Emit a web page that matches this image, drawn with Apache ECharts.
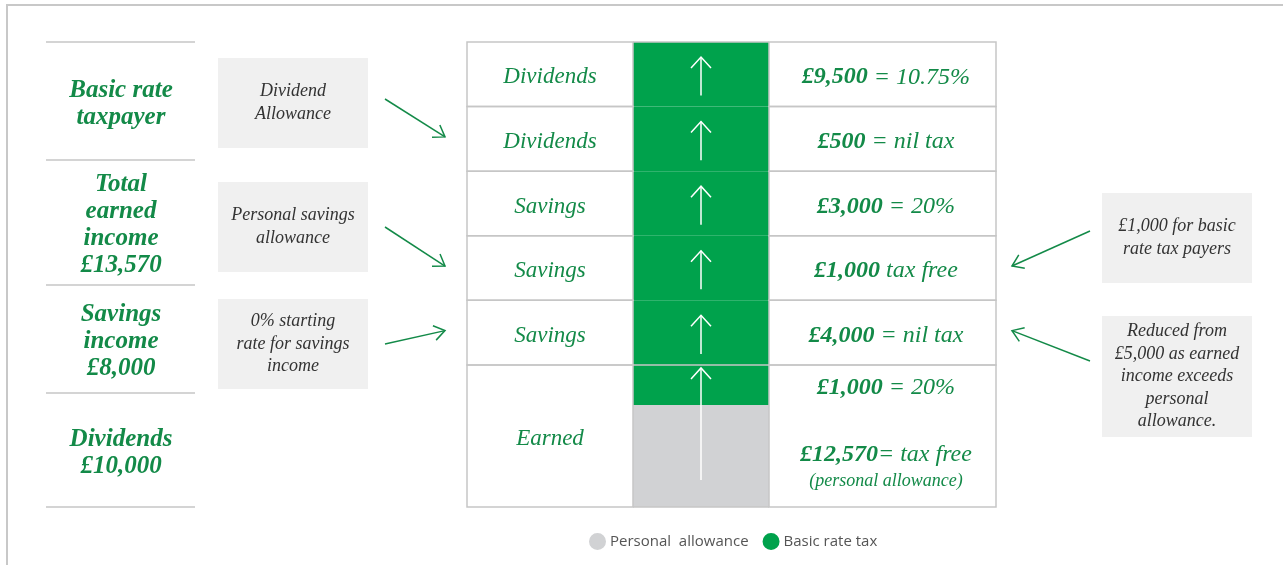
<!DOCTYPE html>
<html>
<head>
<meta charset="utf-8">
<script src="https://cdn.jsdelivr.net/npm/echarts@6/dist/echarts.min.js"></script>
<style>
  html, body { margin: 0; padding: 0; background: #fff; }
  #chart { width: 1283px; height: 565px; }
</style>
</head>
<body>
<div id="chart"></div>
<script>
// income stack, bottom to top
const segmentRows = ['Earned', 'Earned', 'Savings', 'Savings', 'Savings', 'Dividends', 'Dividends'];
const segmentBands = ['Personal  allowance', 'Basic rate tax', 'Basic rate tax', 'Basic rate tax', 'Basic rate tax', 'Basic rate tax', 'Basic rate tax'];
const segmentAmounts = ['£12,570', '£1,000', '£4,000', '£1,000', '£3,000', '£500', '£9,500'];
const segmentRates = ['= tax free', '= 20%', '= nil tax', 'tax free', '= 20%', '= nil tax', '= 10.75%'];
const segmentNotes = ['(personal allowance)', '', '', '', '', '', ''];
// drawn heights are schematic (one band per row), not to scale
const segmentHeights = [1.58, 0.62, 1, 1, 1, 1, 1];

const rowLabels = ['Earned', 'Savings', 'Savings', 'Savings', 'Dividends', 'Dividends'];
const rowSegmentCounts = [2, 1, 1, 1, 1, 1];

const summaryLabels = ['Basic rate\ntaxpayer', 'Total\nearned\nincome\n£13,570', 'Savings\nincome\n£8,000', 'Dividends\n£10,000'];

const noteTexts = [
  'Dividend\nAllowance',
  'Personal savings\nallowance',
  '0% starting\nrate for savings\nincome',
  '£1,000 for basic\nrate tax payers',
  'Reduced from\n£5,000 as earned\nincome exceeds\npersonal\nallowance.'
];
const noteTargets = [5, 3, 2, 3, 2];

const GREEN = '#00a24c';
const TEXT_GREEN = '#138a48';
const GREY = '#d1d2d4';
const LINE = '#c6c6c6';
const SERIF = '"Liberation Serif", "DejaVu Serif", serif';

const bandColors = { 'Personal  allowance': GREY, 'Basic rate tax': GREEN };

const chart = echarts.init(document.getElementById('chart'));

const barSeries = segmentHeights.map((h, i) => ({
  name: segmentBands[i],
  type: 'bar',
  stack: 'income',
  barWidth: '100%',
  silent: true,
  data: [h],
  itemStyle: {
    color: bandColors[segmentBands[i]],
    borderColor: bandColors[segmentBands[i]],
    borderWidth: 1.5
  },
  label: {
    show: true,
    position: ['186%', '50%'],
    align: 'center',
    verticalAlign: 'middle',
    offset: [0, segmentNotes[i] ? 11 : 3],
    formatter: '{b|' + segmentAmounts[i] + '}{r|' + (segmentNotes[i] ? '' : ' ') + segmentRates[i] + '}' +
      (segmentNotes[i] ? '\n{s|' + segmentNotes[i] + '}' : ''),
    rich: {
      b: { fontFamily: SERIF, fontStyle: 'italic', fontWeight: 'bold', fontSize: 24, color: TEXT_GREEN, lineHeight: 28 },
      r: { fontFamily: SERIF, fontStyle: 'italic', fontSize: 24, color: TEXT_GREEN, lineHeight: 28 },
      s: { fontFamily: SERIF, fontStyle: 'italic', fontSize: 18, color: TEXT_GREEN, lineHeight: 24 }
    }
  }
}));

// table rows built from the segment stack
let acc = 0, seg = 0;
const rowData = rowLabels.map((label, r) => {
  const bottom = acc;
  for (let k = 0; k < rowSegmentCounts[r]; k++) acc += segmentHeights[seg++];
  return [0, bottom, acc, r];
});

function renderRow(params, api) {
  const cs = params.coordSys;
  const yb = api.coord([0, api.value(1)])[1];
  const yt = api.coord([0, api.value(2)])[1];
  const r = api.value(3);
  const colL = cs.x - 166;
  const colR = cs.x + cs.width + 227;
  const cx = cs.x + cs.width / 2;
  const tall = yb - yt > 100;
  const headY = yt + (tall ? 3 : 15);
  const tailY = yb - (tall ? 27 : 11);
  const lineStyle = { stroke: LINE, lineWidth: 1.5, fill: null };
  const children = [
    { type: 'rect', shape: { x: colL, y: yt, width: cs.x - colL, height: yb - yt }, style: lineStyle },
    { type: 'rect', shape: { x: cs.x + cs.width, y: yt, width: colR - cs.x - cs.width, height: yb - yt }, style: lineStyle },
    {
      type: 'text',
      style: {
        text: rowLabels[r], x: (colL + cs.x) / 2, y: (yt + yb) / 2 + 3,
        textAlign: 'center', textVerticalAlign: 'middle',
        font: 'italic 23px ' + SERIF, fill: TEXT_GREEN
      }
    },
    { type: 'line', shape: { x1: cx, y1: tailY, x2: cx, y2: headY }, style: { stroke: '#fff', lineWidth: 1.5 } },
    { type: 'polyline', shape: { points: [[cx - 10, headY + 11], [cx, headY], [cx + 10, headY + 11]] }, style: { stroke: '#fff', lineWidth: 1.5, fill: null } }
  ];
  if (tall || r === rowLabels.length - 1) {
    children.push({ type: 'line', shape: { x1: cs.x, y1: yt, x2: cs.x + cs.width, y2: yt }, style: lineStyle });
  }
  if (r === 0) {
    children.push({ type: 'line', shape: { x1: cs.x, y1: yb, x2: cs.x + cs.width, y2: yb }, style: lineStyle });
  }
  return { type: 'group', children };
}

const option = {
  animation: false,
  backgroundColor: '#fff',
  grid: { left: 633, width: 136, top: 42, height: 465 },
  xAxis: { type: 'category', data: ['Income'], show: false },
  yAxis: { type: 'value', min: 0, max: 7.2, show: false },
  legend: {
    data: ['Personal  allowance', 'Basic rate tax'],
    left: 584,
    top: 528,
    icon: 'circle',
    itemWidth: 15,
    itemHeight: 15,
    itemGap: 14,
    selectedMode: false,
    textStyle: { fontFamily: '"Open Sans", sans-serif', fontSize: 15, color: '#555' }
  },
  series: barSeries.concat([{
    type: 'custom',
    z: 3,
    silent: true,
    renderItem: renderRow,
    encode: { x: 0, y: [1, 2] },
    data: rowData
  }])
};

chart.setOption(option);

// annotation layout
const summaryBreaks = [42, 160, 285, 393, 507];
const noteBoxes = [
  { x: 218, y: 58, w: 150, h: 90, from: [385, 99], toX: 445 },
  { x: 218, y: 182, w: 150, h: 90, from: [385, 227], toX: 445 },
  { x: 218, y: 299, w: 150, h: 90, from: [385, 344], toX: 445 },
  { x: 1102, y: 193, w: 150, h: 90, from: [1090, 231], toX: 1012 },
  { x: 1102, y: 316, w: 150, h: 121, from: [1090, 361], toX: 1012 }
];

function segmentCenter(i) {
  let bottom = 0;
  for (let k = 0; k < i; k++) bottom += segmentHeights[k];
  return chart.convertToPixel({ yAxisIndex: 0 }, bottom + segmentHeights[i] / 2);
}

function arrow(x1, y1, x2, y2) {
  const a = Math.atan2(y2 - y1, x2 - x1);
  const len = 13, spread = 0.6;
  const p1 = [x2 - len * Math.cos(a - spread), y2 - len * Math.sin(a - spread)];
  const p2 = [x2 - len * Math.cos(a + spread), y2 - len * Math.sin(a + spread)];
  return [
    { type: 'line', shape: { x1, y1, x2, y2 }, style: { stroke: TEXT_GREEN, lineWidth: 1.5 } },
    { type: 'polyline', shape: { points: [p1, [x2, y2], p2] }, style: { stroke: TEXT_GREEN, lineWidth: 1.5, fill: null } }
  ];
}

const graphics = [
  { type: 'polyline', shape: { points: [[7, 565], [7, 5], [1283, 5]] }, style: { stroke: '#c8c8c8', lineWidth: 2, fill: null } }
];

summaryBreaks.forEach(y => {
  graphics.push({ type: 'line', shape: { x1: 46, y1: y, x2: 195, y2: y }, style: { stroke: LINE, lineWidth: 1.5 } });
});
summaryLabels.forEach((t, i) => {
  graphics.push({
    type: 'text',
    style: {
      text: t, x: 121, y: (summaryBreaks[i] + summaryBreaks[i + 1]) / 2 + 3,
      textAlign: 'center', textVerticalAlign: 'middle',
      font: 'italic bold 25px ' + SERIF, lineHeight: 27, fill: TEXT_GREEN
    }
  });
});

noteBoxes.forEach((b, i) => {
  graphics.push({ type: 'rect', shape: { x: b.x, y: b.y, width: b.w, height: b.h }, style: { fill: '#f0f0f0' } });
  graphics.push({
    type: 'text',
    style: {
      text: noteTexts[i], x: b.x + b.w / 2, y: b.y + b.h / 2,
      textAlign: 'center', textVerticalAlign: 'middle',
      font: 'italic 18px ' + SERIF, lineHeight: 22.5, fill: '#333'
    }
  });
  arrow(b.from[0], b.from[1], b.toX, segmentCenter(noteTargets[i]) - 2).forEach(g => graphics.push(g));
});

chart.setOption({ graphic: graphics });
</script>
</body>
</html>
